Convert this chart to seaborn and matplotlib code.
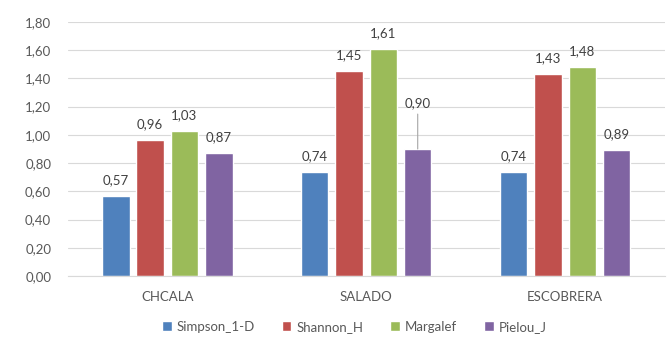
import pandas as pd
import seaborn as sns
import matplotlib.pyplot as plt
from matplotlib.ticker import FuncFormatter

# data
sites = ['CHCALA', 'SALADO', 'ESCOBRERA']
indices = ['Simpson_1-D', 'Shannon_H', 'Margalef', 'Pielou_J']
simpson = [0.57, 0.74, 0.74]
shannon = [0.96, 1.45, 1.43]
margalef = [1.03, 1.61, 1.48]
pielou = [0.87, 0.90, 0.89]
colors = ['#4F81BD', '#C0504D', '#9BBB59', '#8064A2']

rows = []
for name, vals in zip(indices, [simpson, shannon, margalef, pielou]):
    for s, v in zip(sites, vals):
        rows.append({'site': s, 'index': name, 'value': v})
df = pd.DataFrame(rows)

sns.set_style('white')
plt.rcParams['font.family'] = ['Lato', 'DejaVu Sans']

fig = plt.figure(figsize=(6.72, 3.53), dpi=100)
ax = fig.add_axes([0.101, 0.218, 0.888, 0.72])

sns.barplot(data=df, x='site', y='value', hue='index', order=sites,
            hue_order=indices, palette=colors, width=0.69, gap=0.2,
            saturation=1, ax=ax, legend=True)

ax.set_ylim(0, 1.8)
ax.set_yticks([i * 0.2 for i in range(10)])
ax.yaxis.set_major_formatter(FuncFormatter(lambda v, p: f'{v:.2f}'.replace('.', ',')))
ax.grid(axis='y', color='#D9D9D9', linewidth=0.8)
ax.set_axisbelow(True)
for sp in ['top', 'right', 'left']:
    ax.spines[sp].set_visible(False)
ax.spines['bottom'].set_color('#D9D9D9')
ax.tick_params(axis='both', length=0, labelsize=9.5, colors='#595959')
ax.tick_params(axis='y', pad=12)
ax.tick_params(axis='x', pad=11)
ax.set_xlabel('')
ax.set_ylabel('')

for ci, cont in enumerate(ax.containers):
    for bi, bar in enumerate(cont):
        h = bar.get_height()
        txt = f'{h:.2f}'.replace('.', ',')
        x = bar.get_x() + bar.get_width() / 2
        if ci == 3 and bi == 1:
            ax.annotate(txt, xy=(x, h), xytext=(x, h + 0.28), ha='center',
                        va='bottom', fontsize=9.5, color='#404040',
                        arrowprops=dict(arrowstyle='-', color='#A6A6A6', lw=0.8,
                                        shrinkA=1, shrinkB=0))
        else:
            ax.text(x, h + 0.07, txt, ha='center', va='bottom', fontsize=9.5,
                    color='#404040')

ax.legend(loc='center', bbox_to_anchor=(0.48, -0.2), ncol=4,
          frameon=False, fontsize=9.5, handlelength=0.75, handleheight=0.75,
          columnspacing=2.0, handletextpad=0.4, labelcolor='#595959')

fig.savefig('out.png', dpi=100)
